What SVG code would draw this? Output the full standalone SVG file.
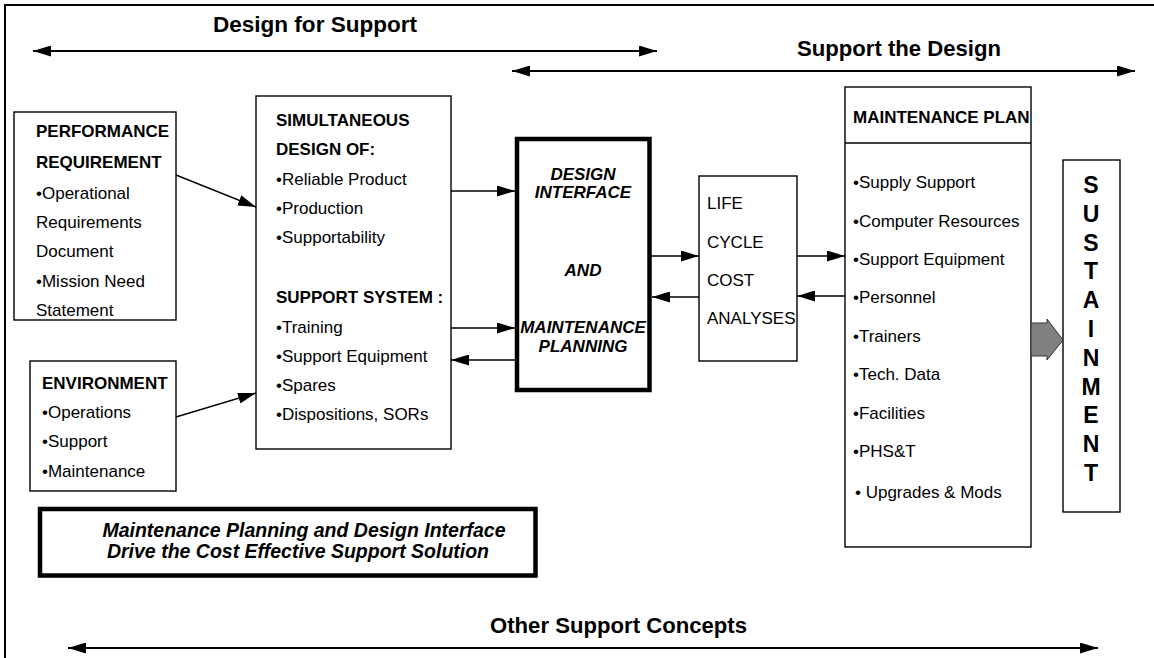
<svg xmlns="http://www.w3.org/2000/svg" width="1154" height="658" viewBox="0 0 1154 658">
<defs>
<marker id="ah" viewBox="0 0 18 11" refX="18" refY="5.5" markerWidth="18" markerHeight="11" markerUnits="userSpaceOnUse" orient="auto-start-reverse">
<path d="M0,0 L18,5.5 L0,11 z" fill="#000"/>
</marker>
</defs>
<style>
text{font-family:"Liberation Sans",Arial,sans-serif;fill:#000}
.t{font-size:17px}
.b{font-size:17px;font-weight:bold}
.bi{font-size:17px;font-weight:bold;font-style:italic}
.title{font-size:22px;font-weight:bold}
.box{fill:#fff;stroke:#000;stroke-width:1.4}
.thick{fill:#fff;stroke:#000;stroke-width:4.5}
.con{stroke:#000;stroke-width:1.4;fill:none;marker-end:url(#ah)}
.span{stroke:#000;stroke-width:2;fill:none;marker-start:url(#ah);marker-end:url(#ah)}
.st{font-size:23px;font-weight:bold;text-anchor:middle}
</style>
<rect width="1154" height="658" fill="#fff"/>
<g id="frame"><path d="M5,658 V5 H1154" fill="none" stroke="#000" stroke-width="2"/></g>

<g id="spans">
<text class="title" x="213" y="32" textLength="204" lengthAdjust="spacingAndGlyphs">Design for Support</text>
<line class="span" x1="33" y1="51" x2="657" y2="51"/>
<text class="title" x="797" y="56" textLength="204" lengthAdjust="spacingAndGlyphs">Support the Design</text>
<line class="span" x1="512" y1="71" x2="1135" y2="71"/>
<text class="title" x="490" y="633" textLength="257" lengthAdjust="spacingAndGlyphs">Other Support Concepts</text>
<line class="span" x1="68" y1="648" x2="1098" y2="648"/>
</g>

<g id="perf">
<rect class="box" x="14" y="112" width="162" height="208"/>
<text class="b" x="36" y="137">PERFORMANCE</text>
<text class="b" x="36" y="168">REQUIREMENT</text>
<text class="t" x="36" y="199">•Operational</text>
<text class="t" x="36" y="228">Requirements</text>
<text class="t" x="36" y="257">Document</text>
<text class="t" x="36" y="287">•Mission Need</text>
<text class="t" x="36" y="316">Statement</text>
</g>

<g id="env">
<rect class="box" x="30" y="361" width="146" height="130"/>
<text class="b" x="42" y="389">ENVIRONMENT</text>
<text class="t" x="42" y="418">•Operations</text>
<text class="t" x="42" y="447">•Support</text>
<text class="t" x="42" y="477">•Maintenance</text>
</g>

<g id="sim">
<rect class="box" x="256" y="96" width="195" height="353"/>
<text class="b" x="276" y="126">SIMULTANEOUS</text>
<text class="b" x="276" y="155">DESIGN OF:</text>
<text class="t" x="276" y="185">•Reliable Product</text>
<text class="t" x="276" y="214">•Production</text>
<text class="t" x="276" y="243">•Supportability</text>
<text class="b" x="276" y="303">SUPPORT SYSTEM :</text>
<text class="t" x="276" y="333">•Training</text>
<text class="t" x="276" y="362">•Support Equipment</text>
<text class="t" x="276" y="391">•Spares</text>
<text class="t" x="276" y="420">•Dispositions, SORs</text>
</g>

<g id="dimp">
<rect class="thick" x="517" y="139" width="132.5" height="251"/>
<g class="bi" text-anchor="middle">
<text class="bi" x="583" y="180">DESIGN</text>
<text class="bi" x="583" y="198">INTERFACE</text>
<text class="bi" x="583" y="276">AND</text>
<text class="bi" x="583" y="333">MAINTENANCE</text>
<text class="bi" x="583" y="352">PLANNING</text>
</g>
</g>

<g id="lcc">
<rect class="box" x="699" y="176" width="98" height="185"/>
<text class="t" x="707" y="209">LIFE</text>
<text class="t" x="707" y="248">CYCLE</text>
<text class="t" x="707" y="286">COST</text>
<text class="t" x="707" y="324">ANALYSES</text>
</g>

<g id="mplan">
<rect class="box" x="845" y="87" width="186" height="460"/>
<line x1="845" y1="143" x2="1031" y2="143" stroke="#000" stroke-width="1.4"/>
<text class="b" x="853" y="123">MAINTENANCE PLAN</text>
<text class="t" x="853" y="188">•Supply Support</text>
<text class="t" x="853" y="227">•Computer Resources</text>
<text class="t" x="853" y="265">•Support Equipment</text>
<text class="t" x="853" y="303">•Personnel</text>
<text class="t" x="853" y="342">•Trainers</text>
<text class="t" x="853" y="380">•Tech. Data</text>
<text class="t" x="853" y="419">•Facilities</text>
<text class="t" x="853" y="457">•PHS&amp;T</text>
<text class="t" x="855" y="498">• Upgrades &amp; Mods</text>
</g>

<g id="sustain">
<rect class="box" x="1063" y="160" width="57" height="352"/>
<text class="st" x="1091" y="193">S</text>
<text class="st" x="1091" y="222">U</text>
<text class="st" x="1091" y="251">S</text>
<text class="st" x="1091" y="279">T</text>
<text class="st" x="1091" y="308">A</text>
<text class="st" x="1091" y="337">I</text>
<text class="st" x="1091" y="366">N</text>
<text class="st" x="1091" y="395">M</text>
<text class="st" x="1091" y="423">E</text>
<text class="st" x="1091" y="452">N</text>
<text class="st" x="1091" y="481">T</text>
</g>

<g id="note">
<rect class="thick" x="40" y="509" width="495.5" height="66.5" stroke-width="4"/>
<text class="bi" x="304" y="537" text-anchor="middle" style="font-size:19.5px">Maintenance Planning and Design Interface</text>
<text class="bi" x="298" y="558" text-anchor="middle" style="font-size:19.5px">Drive the Cost Effective Support Solution</text>
</g>

<g id="connectors">
<line class="con" x1="176" y1="175" x2="256" y2="207"/>
<line class="con" x1="176" y1="417" x2="256" y2="393"/>
<line class="con" x1="451" y1="191" x2="515" y2="191"/>
<line class="con" x1="451" y1="328" x2="515" y2="328"/>
<line class="con" x1="515" y1="360" x2="451" y2="360"/>
<line class="con" x1="651" y1="256" x2="699" y2="256"/>
<line class="con" x1="699" y1="297" x2="652" y2="297"/>
<line class="con" x1="797" y1="256" x2="845" y2="256"/>
<line class="con" x1="845" y1="296" x2="797" y2="296"/>
<polygon points="1031,323 1047,323 1047,319 1063,340 1047,360 1047,356 1031,356" fill="#808080" stroke="#333" stroke-width="1"/>
</g>
</svg>
